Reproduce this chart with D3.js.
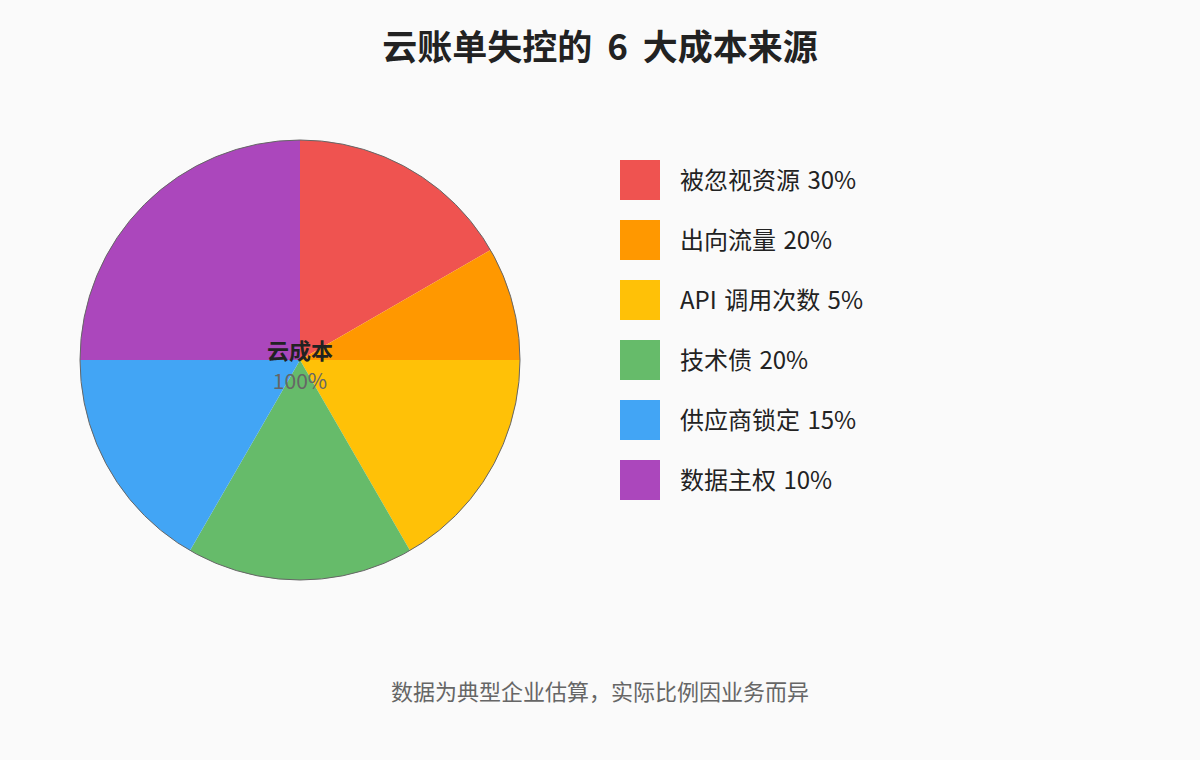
<!DOCTYPE html>
<html>
<head>
<meta charset="utf-8">
<script src="https://cdn.jsdelivr.net/npm/d3@7"></script>
<style>
  html, body { margin: 0; padding: 0; background: #fafafa; }
  svg { display: block; font-family: "Noto Sans CJK SC", "Noto Sans", sans-serif; }
</style>
</head>
<body>
<script>
// categories and values
var categories = ["被忽视资源", "出向流量", "API 调用次数", "技术债", "供应商锁定", "数据主权"];
var shareLabels = ["30%", "20%", "5%", "20%", "15%", "10%"];
// slice sizes as drawn (degrees of the pie, in sixtieths)
var sliceValues = [20, 10, 20, 20, 20, 30];
var colors = ["#EF5350", "#FF9800", "#FFC107", "#66BB6A", "#42A5F5", "#AB47BC"];

var width = 1200, height = 760;
var cx = 300, cy = 360, radius = 220;

var svg = d3.select("body").append("svg")
  .attr("width", width)
  .attr("height", height);

svg.append("rect")
  .attr("width", width)
  .attr("height", height)
  .attr("fill", "#fafafa");

// title
svg.append("text")
  .attr("x", width / 2)
  .attr("y", 60)
  .attr("text-anchor", "middle")
  .attr("font-size", "35px")
  .attr("font-weight", "bold")
  .attr("word-spacing", "7px")
  .attr("fill", "#222")
  .text("云账单失控的 6 大成本来源");

var pie = d3.pie().sort(null).value(function(d) { return d; });
var arc = d3.arc().innerRadius(0).outerRadius(radius);

var g = svg.append("g").attr("transform", "translate(" + cx + "," + cy + ")");

g.selectAll("path.slice")
  .data(pie(sliceValues))
  .enter().append("path")
  .attr("class", "slice")
  .attr("d", arc)
  .attr("fill", function(d, i) { return colors[i]; });

// thin outline round the pie
g.append("circle")
  .attr("r", radius)
  .attr("fill", "none")
  .attr("stroke", "#666")
  .attr("stroke-width", 1);

// centre label
g.append("text")
  .attr("y", -1)
  .attr("text-anchor", "middle")
  .attr("font-size", "22px")
  .attr("font-weight", "bold")
  .attr("fill", "#222")
  .text("云成本");

g.append("text")
  .attr("y", 29)
  .attr("text-anchor", "middle")
  .attr("font-size", "21px")
  .attr("fill", "#666")
  .text("100%");

// legend
var legend = svg.append("g").attr("transform", "translate(620,160)");
var rows = legend.selectAll("g.row")
  .data(categories)
  .enter().append("g")
  .attr("class", "row")
  .attr("transform", function(d, i) { return "translate(0," + (i * 60) + ")"; });

rows.append("rect")
  .attr("width", 40)
  .attr("height", 40)
  .attr("fill", function(d, i) { return colors[i]; });

rows.append("text")
  .attr("x", 60)
  .attr("y", 29)
  .attr("font-size", "24px")
  .attr("word-spacing", "2px")
  .attr("fill", "#222")
  .text(function(d, i) { return d + " " + shareLabels[i]; });

// footnote
svg.append("text")
  .attr("x", width / 2)
  .attr("y", 700)
  .attr("text-anchor", "middle")
  .attr("font-size", "22px")
  .attr("fill", "#666")
  .text("数据为典型企业估算，实际比例因业务而异");
</script>
</body>
</html>
